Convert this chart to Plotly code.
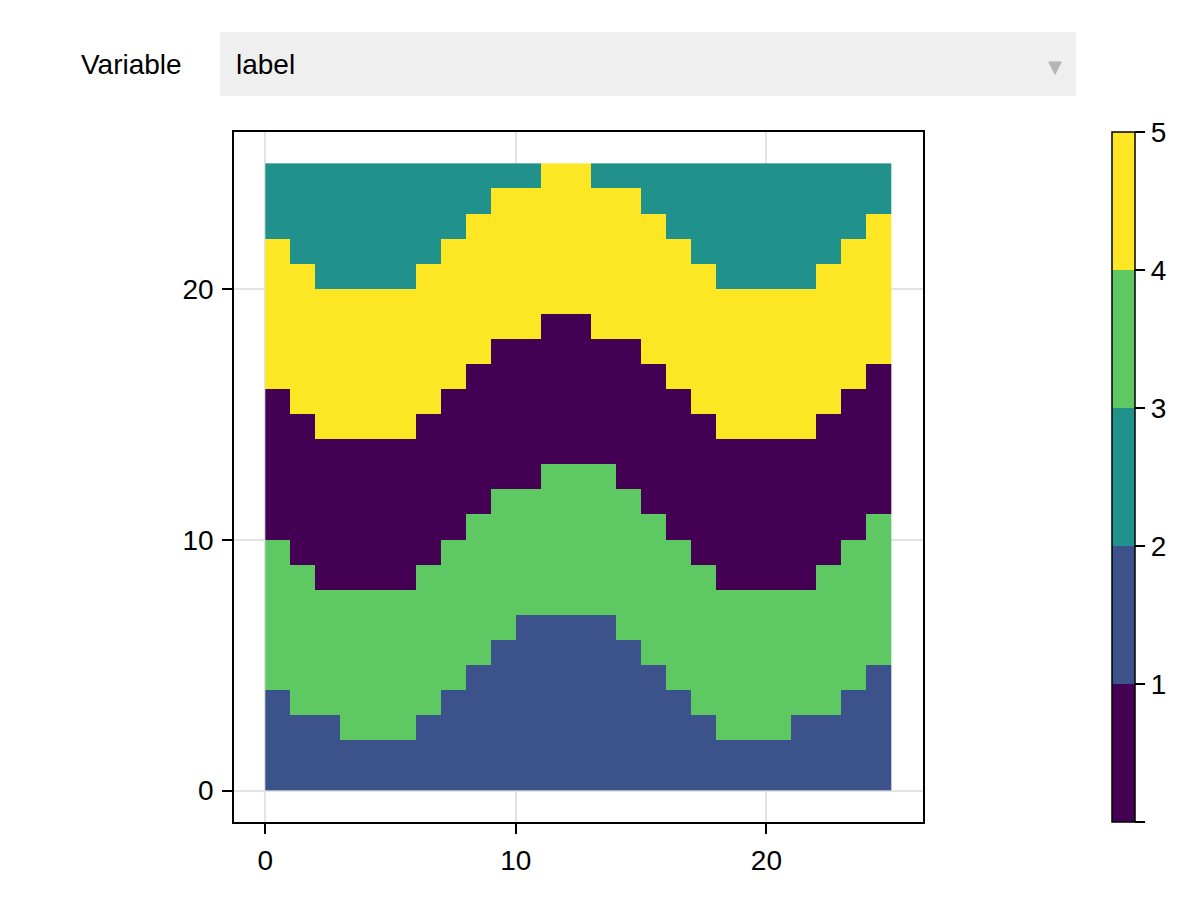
import plotly.graph_objects as go

# ---- data ----
n_cols = 25
n_rows = 25
# top row (exclusive) of each band per column
blue_top = [4, 3, 3, 2, 2, 2, 3, 4, 5, 6, 7, 7, 7, 7, 6, 5, 4, 3, 2, 2, 2, 3, 3, 4, 5]
green_top = [10, 9, 8, 8, 8, 8, 9, 10, 11, 12, 12, 13, 13, 13, 12, 11, 10, 9, 8, 8, 8, 8, 9, 10, 11]
purple_top = [16, 15, 14, 14, 14, 14, 15, 16, 17, 18, 18, 19, 19, 18, 18, 17, 16, 15, 14, 14, 14, 14, 15, 16, 17]
yellow_top = [22, 21, 20, 20, 20, 20, 21, 22, 23, 24, 24, 25, 25, 24, 24, 23, 22, 21, 20, 20, 20, 20, 21, 22, 23]
band_labels = [1, 3, 0, 4, 2]  # bottom band to top band
colorbar_ticks = [0, 1, 2, 3, 4, 5]
colorbar_ticktext = ["", "1", "2", "3", "4", "5"]
axis_ticks = [0, 10, 20]
menu_label = "Variable"
menu_value = "label"

viridis5 = ["#440154", "#3b528b", "#21918c", "#5ec962", "#fde725"]

# build the label grid from the band boundaries
tops = [blue_top, green_top, purple_top, yellow_top]
z = []
for r in range(n_rows):
    row = []
    for c in range(n_cols):
        lab = band_labels[-1]
        for k, t in enumerate(tops):
            if r < t[c]:
                lab = band_labels[k]
                break
        row.append(lab)
    z.append(row)

# discrete colorscale: band [k, k+1] -> colour k on a 0..5 range
cs = []
for k, col in enumerate(viridis5):
    cs.append([k / 5, col])
    cs.append([(k + 1) / 5, col])

FONT = "Liberation Sans, Arial, Helvetica, sans-serif"
FS = 28
OFF = 8  # page body margin
W, H = 1192, 892
L, R, T, B = 234 - OFF, 923 - OFF, 132 - OFF, 822 - OFF


def px(x):
    return (x - OFF - L) / (R - L)


def py(y):
    return (B - (y - OFF)) / (B - T)


fig = go.Figure()
fig.add_trace(go.Heatmap(
    z=z,
    x=list(range(n_cols + 1)),
    y=list(range(n_rows + 1)),
    colorscale=cs,
    zmin=0, zmax=5,
    zsmooth=False,
    colorbar=dict(
        x=px(1112), xanchor="left", xref="paper",
        y=0.5, yanchor="middle", len=1, lenmode="fraction",
        thickness=23, xpad=0, ypad=0,
        outlinewidth=1.5, outlinecolor="black",
        tickmode="array", tickvals=colorbar_ticks, ticktext=colorbar_ticktext,
        ticks="outside", ticklen=10, tickwidth=1.5, tickcolor="black",
        tickfont=dict(family=FONT, size=FS, color="black"),
    ),
))

axis_common = dict(
    tickmode="array", tickvals=axis_ticks,
    showline=True, mirror=True, linecolor="black", linewidth=1.5,
    showgrid=True, gridcolor="#e3e3e3", gridwidth=1.5,
    zeroline=False,
    ticks="outside", ticklen=10, tickwidth=1.5, tickcolor="black",
    ticklabelstandoff=3,
    tickfont=dict(family=FONT, size=FS, color="black"),
    range=[-1.25, 26.25],
)

fig.update_layout(
    width=W, height=H, autosize=False,
    margin=dict(l=L, r=W - R, t=T, b=H - B, pad=0),
    paper_bgcolor="white", plot_bgcolor="white",
    xaxis=axis_common,
    yaxis=axis_common,
    font=dict(family=FONT, color="black"),
    shapes=[dict(
        type="rect", xref="paper", yref="paper",
        x0=px(220), x1=px(1076), y0=py(96), y1=py(32),
        fillcolor="#efefef", line=dict(width=0), layer="above",
    )],
    annotations=[
        dict(text=menu_label, xref="paper", yref="paper",
             x=px(184), y=py(64), xanchor="right", yanchor="middle",
             showarrow=False, font=dict(family=FONT, size=FS, color="black")),
        dict(text=menu_value, xref="paper", yref="paper",
             x=px(234), y=py(64), xanchor="left", yanchor="middle",
             showarrow=False, font=dict(family=FONT, size=FS, color="black")),
        dict(text="▼", xref="paper", yref="paper",
             x=px(1055), y=py(66), xanchor="center", yanchor="middle",
             showarrow=False, font=dict(family="DejaVu Sans", size=18, color="#b5b5b5")),
    ],
)

fig.write_html("out.html")
